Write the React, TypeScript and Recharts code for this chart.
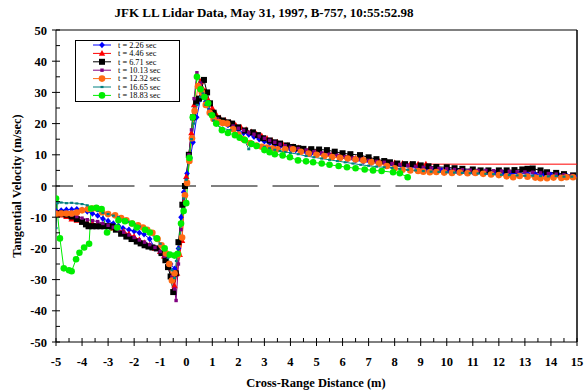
import React from 'react';
import { LineChart, Line, XAxis, YAxis, ReferenceLine } from 'recharts';

const FONT = "'Liberation Serif', 'Times New Roman', serif";

const title = 'JFK LL Lidar Data, May 31, 1997, B-757, 10:55:52.98';
const xLabel = 'Cross-Range Distance (m)';
const yLabel = 'Tangential Velocity (m/sec)';

const xTicks = [-5, -4.5, -4, -3.5, -3, -2.5, -2, -1.5, -1, -0.5, 0, 0.5, 1, 1.5, 2, 2.5, 3, 3.5, 4, 4.5, 5, 5.5, 6, 6.5, 7, 7.5, 8, 8.5, 9, 9.5, 10, 10.5, 11, 11.5, 12, 12.5, 13, 13.5, 14, 14.5, 15];
const yTicks = [-50, -45, -40, -35, -30, -25, -20, -15, -10, -5, 0, 5, 10, 15, 20, 25, 30, 35, 40, 45, 50];

const seriesNames = ['t = 2.26 sec', 't = 4.46 sec', 't = 6.71 sec', 't = 10.13 sec', 't = 12.32 sec', 't = 16.65 sec', 't = 18.83 sec'];
const seriesColors = ['#0000FF', '#FF0000', '#000000', '#800080', '#FF6A13', '#008080', '#00EE00'];

const t226 = [[-5,-8],[-4.8,-7.8],[-4.6,-7.6],[-4.4,-7.5],[-4.2,-7.4],[-4.0,-7.6],[-3.8,-8.2],[-3.6,-8.8],[-3.4,-9.5],[-3.2,-10.5],[-3.0,-11.2],[-2.8,-12],[-2.6,-12.8],[-2.43,-13.5],[-2.2,-14],[-2.0,-14.5],[-1.8,-15],[-1.62,-15.5],[-1.4,-17],[-1.2,-20],[-1.0,-21.5],[-0.82,-23],[-0.6,-25],[-0.45,-26.5],[-0.38,-28],[-0.3,-20],[-0.2,-10],[-0.1,-2],[0.03,4],[0.15,9],[0.26,14],[0.4,22],[0.55,28],[0.64,29.5],[0.75,27],[0.9,24],[1.05,22],[1.2,21],[1.4,20],[1.6,19.5],[1.8,19],[2.0,18],[2.2,17],[2.4,16.5],[2.6,15.8],[2.8,15],[3.0,14.3],[3.2,13.8],[3.4,13.2],[3.6,12.7],[3.8,12.2],[4.0,11.8],[4.2,11.5],[4.4,11.2],[4.6,10.8],[4.8,10.5],[5.0,10.3],[5.3,9.8],[5.6,9.4],[5.9,9],[6.2,8.6],[6.5,8.2],[6.8,7.8],[7.1,7.5],[7.4,7.2],[7.7,6.8],[8.0,6.5],[8.3,6.3],[8.6,6],[8.9,5.6],[9.2,5.3],[9.5,5],[9.8,5],[10.1,4.8],[10.4,4.7],[10.7,4.6],[11.0,4.5],[11.3,4.4],[11.6,4.3],[11.9,4.2],[12.2,4.2],[12.5,4],[12.8,4],[13.1,3.9],[13.4,3.8],[13.7,3.7],[14.0,3.6],[14.3,3.5],[14.6,3.4],[14.9,3.2]];

const t446 = [[-5,-9],[-4.8,-9.3],[-4.6,-9.8],[-4.4,-10.6],[-4.2,-11],[-4.0,-11.5],[-3.8,-11.8],[-3.6,-12],[-3.4,-12.3],[-3.2,-12.6],[-3.0,-13],[-2.8,-13.5],[-2.6,-14],[-2.4,-14.6],[-2.2,-15.4],[-2.0,-16.2],[-1.8,-17.2],[-1.6,-18.2],[-1.4,-19],[-1.2,-20],[-1.0,-21],[-0.85,-22.5],[-0.7,-25.5],[-0.55,-29],[-0.45,-32],[-0.35,-28],[-0.25,-22],[-0.16,-17.5],[-0.08,-5],[0.0,3],[0.1,10],[0.2,17],[0.3,26],[0.41,35.5],[0.55,33.5],[0.72,30.5],[0.85,27.5],[1.0,25],[1.15,23],[1.3,21.8],[1.5,21],[1.7,20.3],[1.9,19.5],[2.1,18.8],[2.3,18],[2.5,17.3],[2.7,16.6],[2.9,16],[3.1,15.2],[3.3,14.5],[3.5,14],[3.7,13.5],[3.9,13],[4.1,12.6],[4.3,12.2],[4.5,11.8],[4.7,11.5],[5.0,11],[5.3,10.4],[5.6,10],[5.9,9.5],[6.2,9.2],[6.5,8.8],[6.8,8.5],[7.1,8.2],[7.4,7.9],[7.7,7.6],[8.0,7.4],[8.3,7.2],[8.6,7.0],[8.9,7.0],[9.2,7.0]];
const redTail = [[9.2, 7], [15, 7]];

const t671 = [[-5,-8.7],[-4.8,-8.8],[-4.6,-9.2],[-4.4,-9.8],[-4.2,-10.6],[-4.0,-11.5],[-3.85,-12.3],[-3.75,-12.9],[-3.6,-12.9],[-3.45,-12.9],[-3.3,-12.9],[-3.15,-12.9],[-3.0,-12.9],[-2.85,-13],[-2.7,-14],[-2.5,-15.3],[-2.3,-16.2],[-2.1,-17],[-1.9,-17.8],[-1.75,-18.4],[-1.6,-19],[-1.45,-19.4],[-1.3,-19.7],[-1.13,-20],[-0.95,-21.5],[-0.8,-23.8],[-0.7,-26],[-0.6,-29],[-0.5,-34],[-0.4,-28],[-0.3,-18],[-0.15,-6],[-0.05,0],[0.1,10],[0.26,22],[0.38,27],[0.49,28],[0.68,34],[0.8,30],[0.91,26.5],[1.05,23.5],[1.22,21.7],[1.4,21],[1.6,20.4],[1.76,20],[1.99,18.8],[2.26,17.8],[2.56,17.2],[2.75,16.3],[2.95,15.3],[3.2,14.6],[3.4,14],[3.6,13.6],[3.87,13],[4.1,12.5],[4.3,12.1],[4.5,11.9],[4.8,11.8],[5.1,11.7],[5.4,11.5],[5.7,11],[6.0,10.5],[6.3,10.2],[6.67,9.9],[7.0,9.2],[7.3,8.6],[7.6,8],[7.82,7.6],[8.1,7.2],[8.4,7],[8.7,7],[9.0,6.6],[9.3,6.3],[9.6,6.1],[10.0,6],[10.3,5.7],[10.6,5.5],[11.0,5.3],[11.3,5],[11.6,5],[12.0,5],[12.3,5],[12.6,5.1],[12.9,5.3],[13.1,5.5],[13.3,5.6],[13.6,5],[13.85,4.4],[14.2,4.2],[14.5,3.8],[14.85,3.4]];

const t1013 = [[-5,-8.2],[-4.8,-8.4],[-4.6,-8.8],[-4.4,-9.3],[-4.2,-9.8],[-4.0,-10.3],[-3.8,-10.8],[-3.6,-11.1],[-3.4,-11.4],[-3.2,-12],[-3.0,-12.6],[-2.8,-13.2],[-2.6,-14],[-2.4,-14.8],[-2.2,-15.7],[-2.0,-16.5],[-1.8,-17.3],[-1.6,-18],[-1.4,-18.8],[-1.2,-19.7],[-1.0,-21],[-0.85,-22.5],[-0.7,-25],[-0.55,-29],[-0.45,-33],[-0.39,-36.7],[-0.3,-25],[-0.2,-14],[-0.1,-4],[0.0,2],[0.1,10],[0.2,18],[0.3,28],[0.41,36.3],[0.55,33],[0.7,29],[0.85,26],[1.0,23],[1.2,21.5],[1.4,20.5],[1.6,20],[1.8,19.2],[2.0,18.5],[2.2,17.8],[2.4,17.2],[2.6,16.6],[2.8,16],[3.0,15.3],[3.2,14.6],[3.4,14],[3.6,13.4],[3.8,12.9],[4.0,12.4],[4.3,12],[4.6,11.5],[4.9,11],[5.2,10.6],[5.5,10.2],[5.8,9.8],[6.1,9.4],[6.4,9],[6.7,8.6],[7.0,8.2],[7.3,7.9],[7.6,7.6],[7.9,7.2],[8.2,6.9],[8.5,6.6],[8.8,6.3],[9.1,6],[9.4,5.8],[9.7,5.6],[10.0,5.5],[10.3,5.3],[10.6,5.2],[10.9,5.1],[11.2,5],[11.5,5],[11.8,4.9],[12.1,4.8],[12.4,4.7],[12.7,4.6],[13.0,4.5],[13.3,4.4],[13.6,4.2],[13.9,4],[14.2,3.8],[14.5,3.6],[14.8,3.4]];

const t1232 = [[-5,-9],[-4.8,-8.8],[-4.6,-8.8],[-4.4,-8.8],[-4.2,-8.5],[-4.0,-7.8],[-3.77,-7.4],[-3.6,-7.2],[-3.43,-7.2],[-3.23,-8.4],[-3.0,-9],[-2.73,-9.4],[-2.5,-10.3],[-2.3,-11],[-2.08,-12],[-1.85,-12.6],[-1.66,-13.3],[-1.5,-14],[-1.3,-15],[-1.1,-17],[-0.95,-19],[-0.78,-21.6],[-0.65,-25],[-0.55,-30.3],[-0.45,-28],[-0.3,-22],[-0.16,-16.5],[-0.05,-3],[0.03,1],[0.12,8],[0.22,15.3],[0.32,24],[0.45,32],[0.6,30],[0.75,26],[0.9,23.5],[1.05,21.5],[1.25,20.5],[1.4,20.2],[1.57,20],[1.8,18.2],[2.0,16.5],[2.2,15],[2.45,13.8],[2.7,13],[2.9,12.6],[3.1,12.3],[3.3,12],[3.5,11.8],[3.8,11.8],[4.1,11.8],[4.4,11],[4.7,10.4],[5.0,10],[5.3,9.6],[5.6,9.3],[5.9,9],[6.2,8.8],[6.5,8.5],[6.8,8.2],[7.1,7.6],[7.4,7.2],[7.7,6.4],[8.0,5.7],[8.3,5.2],[8.6,5],[8.9,4.8],[9.1,4.6],[9.35,4.4],[9.6,4.5],[9.9,4.3],[10.2,4.2],[10.5,4.3],[10.8,4.1],[11.1,4.2],[11.4,3.9],[11.7,3.7],[12.0,3.5],[12.3,3.1],[12.55,2.8],[12.8,3.2],[13.1,3],[13.4,2.7],[13.6,2.5],[13.85,2.5],[14.1,2.7],[14.4,2.6],[14.6,2.8],[14.85,2.8]];

const t1665 = [[-5,-13.5],[-4.95,-5.5],[-4.8,-5.3],[-4.6,-5.5],[-4.4,-5.4],[-4.2,-5.6],[-4.0,-5.8],[-3.8,-6.2],[-3.6,-7],[-3.4,-8],[-3.2,-8.6],[-3.0,-9],[-2.8,-9.5],[-2.6,-10],[-2.4,-10.8],[-2.2,-11.5],[-2.0,-12.2],[-1.8,-13],[-1.6,-14],[-1.4,-15],[-1.2,-16.8],[-1.0,-18.5],[-0.85,-20.5],[-0.7,-23],[-0.55,-27],[-0.45,-29.5],[-0.38,-24],[-0.3,-20],[-0.2,-12],[-0.1,-4],[0.0,2],[0.1,9],[0.2,15],[0.3,20],[0.42,26],[0.55,28.5],[0.64,29.7],[0.75,26],[0.9,23],[1.05,21],[1.2,19.5],[1.4,18.5],[1.68,17.9],[1.9,16.8],[2.1,15.5],[2.25,14.5],[2.4,11.8],[2.55,14],[2.75,13.2],[3.0,12.5],[3.2,12.1],[3.4,11.6],[3.6,11.2],[3.8,10.9],[4.0,10.6],[4.3,10.2],[4.6,9.6],[4.9,9.2],[5.2,8.8],[5.5,8.4],[5.8,8],[6.1,7.6],[6.4,7.2],[6.7,6.8],[7.0,6.5],[7.3,6.2],[7.6,6],[7.9,5.8],[8.2,5.5],[8.5,5.2],[8.8,5],[9.1,4.8],[9.4,4.6],[9.7,4.5],[10.0,4.4],[10.3,4.3],[10.6,4.2],[10.9,4.1],[11.2,4],[11.5,3.9],[11.8,3.8],[12.1,3.6],[12.4,3.5],[12.7,3.4],[13.0,3.3],[13.3,3.3],[13.6,3.2],[13.9,3.1],[14.2,3.2],[14.5,3],[14.8,3]];

const t1883 = [[-5,-4],[-4.85,-16.8],[-4.7,-26.4],[-4.5,-27],[-4.4,-27.3],[-4.23,-23.5],[-4.1,-21.4],[-3.92,-19.7],[-3.73,-18.5],[-3.65,-7.2],[-3.45,-7.0],[-3.25,-7.4],[-3.04,-14.9],[-2.65,-13.3],[-2.6,-11],[-2.35,-11.3],[-2.08,-12],[-1.9,-13.3],[-1.58,-14],[-1.4,-14.9],[-1.13,-16.8],[-0.83,-20],[-0.63,-22],[-0.45,-22.3],[-0.33,-21.7],[-0.2,-12],[-0.1,-8],[0.0,-5.5],[0.12,9],[0.25,22],[0.41,35],[0.55,31],[0.7,28.5],[0.84,26.5],[0.99,22.7],[1.15,20],[1.37,17.9],[1.6,17],[1.87,16.3],[2.05,15.5],[2.25,14.7],[2.5,13.5],[2.7,12.8],[3.0,11.5],[3.2,10.8],[3.4,10.2],[3.7,9.8],[3.98,9.2],[4.29,8.2],[4.6,7.9],[4.87,7.6],[5.2,7.2],[5.5,6.8],[5.85,6.4],[6.17,6],[6.5,5.7],[6.85,5.3],[7.17,5],[7.5,4.8],[7.94,4.4],[8.2,4.1],[8.5,2.8]];

const toRows = (pts: number[][]) => pts.map(([x, y]) => ({ x, y }));

type ShapeKind = 'diamond' | 'triangle' | 'square' | 'small' | 'circle' | 'tiny';
const shapes: ShapeKind[] = ['diamond', 'triangle', 'square', 'small', 'circle', 'tiny', 'circle'];
const seriesData = [t226, t446, t671, t1013, t1232, t1665, t1883];

function Marker({ kind, cx, cy, color }: { kind: ShapeKind; cx: number; cy: number; color: string }) {
  switch (kind) {
    case 'diamond':
      return <polygon points={`${cx},${cy - 3.2} ${cx + 2.8},${cy} ${cx},${cy + 3.2} ${cx - 2.8},${cy}`} fill={color} />;
    case 'triangle':
      return <polygon points={`${cx},${cy - 3.5} ${cx + 3.2},${cy + 2.4} ${cx - 3.2},${cy + 2.4}`} fill={color} />;
    case 'square':
      return <rect x={cx - 3} y={cy - 3} width={6} height={6} fill={color} />;
    case 'small':
      return <rect x={cx - 1.7} y={cy - 1.7} width={3.4} height={3.4} fill={color} />;
    case 'tiny':
      return <rect x={cx - 1.5} y={cy - 1.1} width={3} height={2.2} fill={color} />;
    default:
      return <circle cx={cx} cy={cy} r={3.3} fill={color} />;
  }
}

const makeDot = (kind: ShapeKind, color: string) => (props: any) => {
  const { cx, cy, index } = props;
  if (cx == null || cy == null) return <g key={`d-${index}`} />;
  return <g key={`d-${kind}-${index}`}><Marker kind={kind} cx={cx} cy={cy} color={color} /></g>;
};

const XTick = (props: any) => {
  const { x, y, payload } = props;
  const v = payload.value;
  const major = Number.isInteger(v);
  return (
    <g>
      <line x1={x} x2={x} y1={y - 4} y2={major ? y + 4 : y} stroke="#000" strokeWidth={1} />
      {major && (
        <text x={x} y={y + 24} textAnchor="middle" fontFamily={FONT} fontWeight="bold" fontSize={12.5} fill="#000">
          {v}
        </text>
      )}
    </g>
  );
};

const YTick = (props: any) => {
  const { x, y, payload } = props;
  const v = payload.value;
  const major = v % 10 === 0;
  return (
    <g>
      <line x1={major ? x - 4 : x} x2={x + 4} y1={y} y2={y} stroke="#000" strokeWidth={1} />
      {major && (
        <text x={x - 9} y={y + 4.5} textAnchor="end" fontFamily={FONT} fontWeight="bold" fontSize={12.5} fill="#000">
          {v}
        </text>
      )}
    </g>
  );
};

export default function App() {
  return (
    <div style={{ position: 'absolute', left: 0, top: 0, width: 584, height: 392, background: '#fff' }}>
      <LineChart width={584} height={392} margin={{ top: 30, right: 7, bottom: 0, left: 0 }}>
        <XAxis
          type="number"
          dataKey="x"
          domain={[-5, 15]}
          ticks={xTicks}
          interval={0}
          tick={<XTick />}
          tickLine={false}
          tickSize={0}
          tickMargin={0}
          height={50}
          axisLine={{ stroke: '#000', strokeWidth: 1 }}
          allowDataOverflow
        />
        <YAxis
          type="number"
          domain={[-50, 50]}
          ticks={yTicks}
          interval={0}
          tick={<YTick />}
          tickLine={false}
          tickSize={0}
          tickMargin={0}
          width={56}
          axisLine={{ stroke: '#000', strokeWidth: 1 }}
          allowDataOverflow
        />
        <ReferenceLine y={50} stroke="#808080" strokeWidth={2} />
        <ReferenceLine x={15} stroke="#000" strokeWidth={1.5} />
        <ReferenceLine y={0} stroke="#000" strokeWidth={1} strokeDasharray="46.5 15" strokeDashoffset={29.5} />
        <Line
          data={toRows(redTail)}
          dataKey="y"
          stroke="#FF0000"
          strokeWidth={1}
          dot={false}
          isAnimationActive={false}
        />
        {seriesData.map((pts, i) => (
          <Line
            key={seriesNames[i]}
            data={toRows(pts)}
            dataKey="y"
            name={seriesNames[i]}
            stroke={seriesColors[i]}
            strokeWidth={1}
            dot={makeDot(shapes[i], seriesColors[i])}
            activeDot={false}
            isAnimationActive={false}
          />
        ))}
      </LineChart>
      <svg width={584} height={392} style={{ position: 'absolute', left: 0, top: 0, pointerEvents: 'none' }}>
        <text x={264} y={17} textAnchor="middle" fontFamily={FONT} fontWeight="bold" fontSize={13} fill="#000">
          {title}
        </text>
        <text x={316} y={387} textAnchor="middle" fontFamily={FONT} fontWeight="bold" fontSize={12.5} fill="#000">
          {xLabel}
        </text>
        <text
          x={0}
          y={0}
          transform="translate(21,186) rotate(-90)"
          textAnchor="middle"
          fontFamily={FONT}
          fontWeight="bold"
          fontSize={12.5}
          fill="#000"
        >
          {yLabel}
        </text>
        <rect x={75.5} y={40.5} width={104} height={61} fill="#fff" stroke="#000" strokeWidth={1} />
        {seriesNames.map((n, i) => {
          const cy = 45 + i * 8.4;
          return (
            <g key={n}>
              <line x1={93} x2={111} y1={cy} y2={cy} stroke={seriesColors[i]} strokeWidth={1} />
              <Marker kind={shapes[i]} cx={102} cy={cy} color={seriesColors[i]} />
              <text x={118} y={cy + 2.8} fontFamily={FONT} fontSize={8.3} fill="#000">
                {n}
              </text>
            </g>
          );
        })}
      </svg>
    </div>
  );
}
